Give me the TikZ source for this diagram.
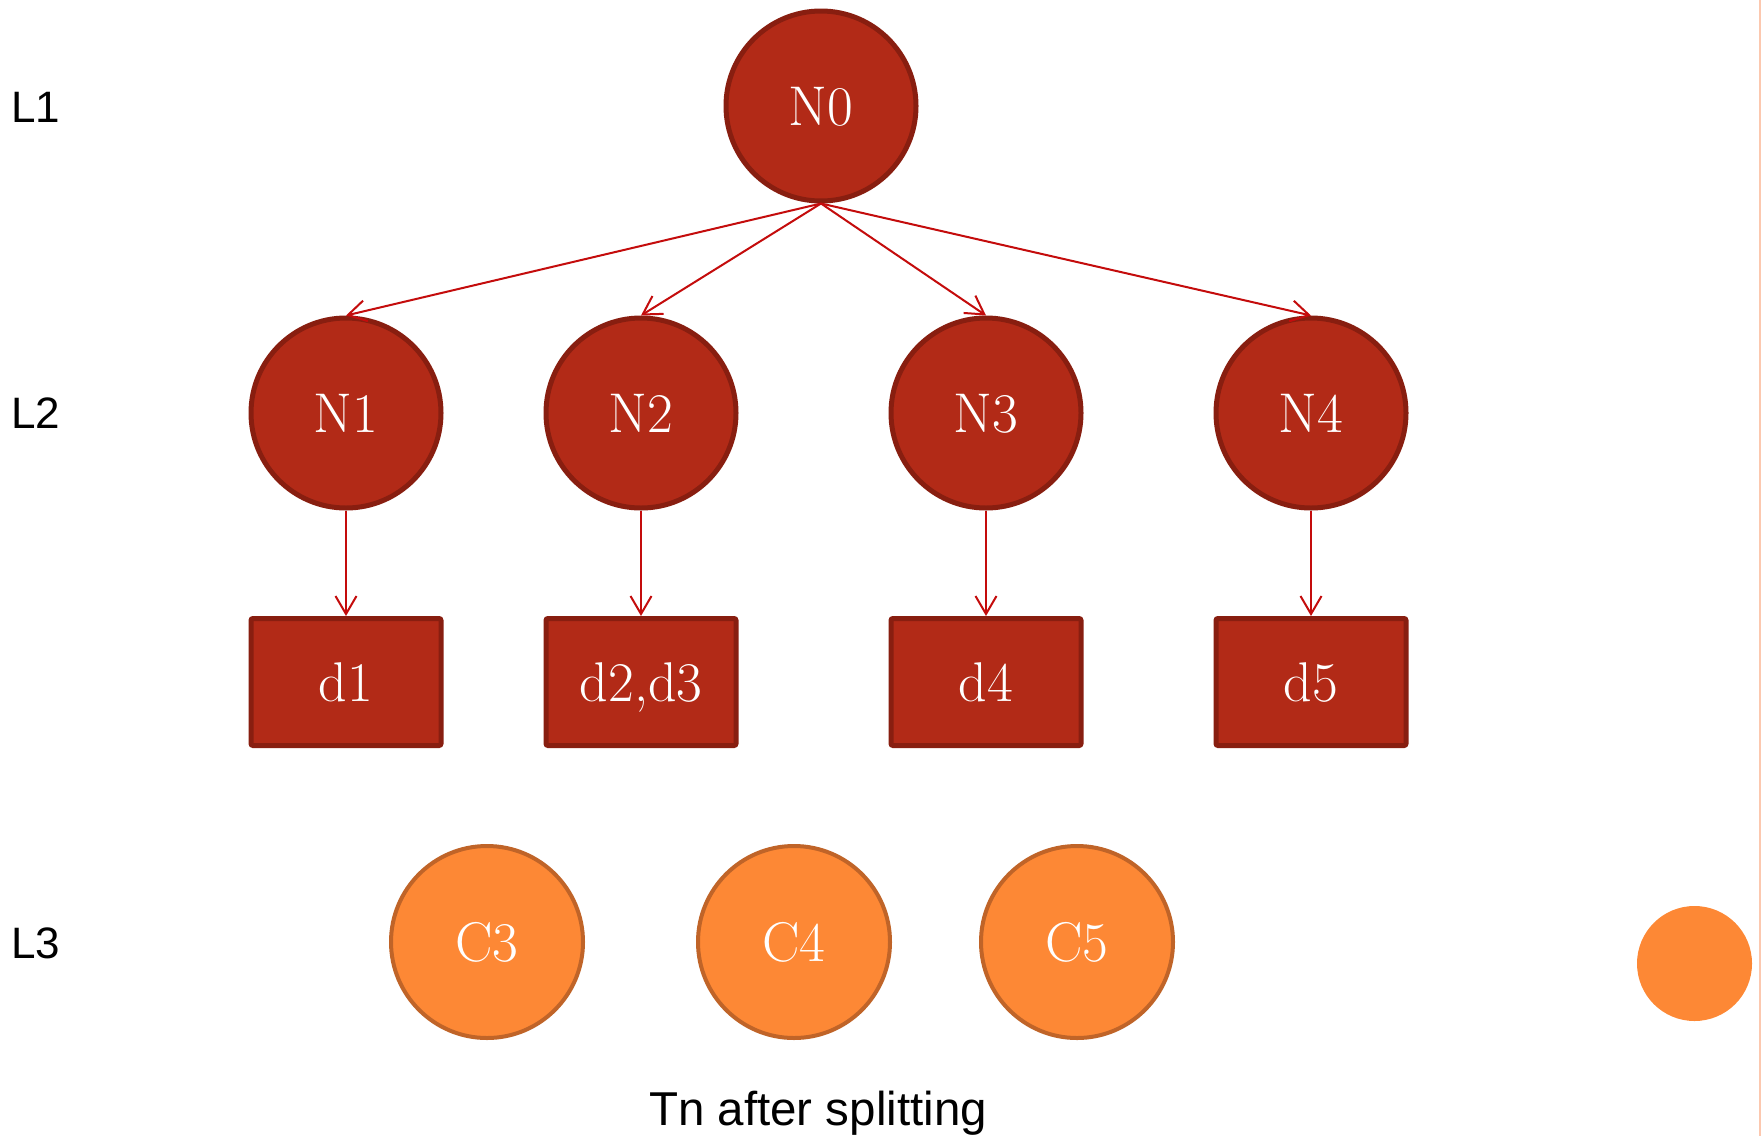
\documentclass[tikz,border=0pt]{standalone}
\usepackage{fontspec}
\newfontfamily\arialfont{Liberation Sans}
\usetikzlibrary{arrows.meta}
\definecolor{nfill}{RGB}{178,42,23}
\definecolor{nborder}{RGB}{136,30,16}
\definecolor{arr}{RGB}{196,12,12}
\definecolor{ofill}{RGB}{253,136,53}
\definecolor{oborder}{RGB}{192,100,40}
\definecolor{edgeline}{RGB}{252,200,175}
\tikzset{
  x=0.5pt, y=-0.5pt,
  nfont/.style={text=white, font=\fontsize{28}{32}\selectfont, text depth=0pt},
  ncirc/.style={circle, fill=nfill, draw=nborder, line width=2.5pt, minimum size=95pt, inner sep=0pt, nfont},
  nbox/.style={rectangle, rounded corners=1pt, fill=nfill, draw=nborder, line width=2.5pt, minimum width=95pt, minimum height=63.5pt, inner sep=0pt, nfont},
  ocirc/.style={circle, fill=ofill, draw=oborder, line width=2pt, minimum size=96pt, inner sep=0pt, nfont},
  odot/.style={circle, fill=ofill, minimum size=57.5pt, inner sep=0pt},
  lvl/.style={anchor=base west, inner sep=0pt, font=\arialfont\fontsize{22}{26}\selectfont},
  capt/.style={anchor=base, inner sep=0pt, font=\arialfont\fontsize{23.75}{28}\selectfont},
  conn/.style={draw=arr, line width=1pt, -{Straight Barb[length=9pt,width=10.5pt,line width=1pt]}}
}
\begin{document}
\begin{tikzpicture}
\useasboundingbox[fill=white] (0,0) rectangle (1761,1136);
\draw[edgeline, line width=0.6pt] (1760,0) -- (1760,1136);

\node[lvl] (l1) at (11,122) {L1};
\node[lvl] (l2) at (11,428) {L2};
\node[lvl] (l3) at (11,958) {L3};

\node[ncirc] (n0) at (821,106) {N0};
\node[ncirc] (n1) at (346,413) {N1};
\node[ncirc] (n2) at (641,413) {N2};
\node[ncirc] (n3) at (986,413) {N3};
\node[ncirc] (n4) at (1311,413) {N4};

\node[nbox] (d1) at (346,682) {d1};
\node[nbox] (d2) at (641,682) {d2,d3};
\node[nbox] (d4) at (986,682) {d4};
\node[nbox] (d5) at (1311,682) {d5};

\node[ocirc] (c3) at (487,942) {C3};
\node[ocirc] (c4) at (794,942) {C4};
\node[ocirc] (c5) at (1077,942) {C5};
\node[odot] (dot) at (1694.5,963.5) {};

\node[capt] (cap) at (818,1125) {Tn after splitting};

\foreach \t in {n1,n2,n3,n4}
  \draw[conn] (n0.south) -- (\t.north);
\draw[conn] (n1.south) -- (d1.north);
\draw[conn] (n2.south) -- (d2.north);
\draw[conn] (n3.south) -- (d4.north);
\draw[conn] (n4.south) -- (d5.north);
\end{tikzpicture}
\end{document}
